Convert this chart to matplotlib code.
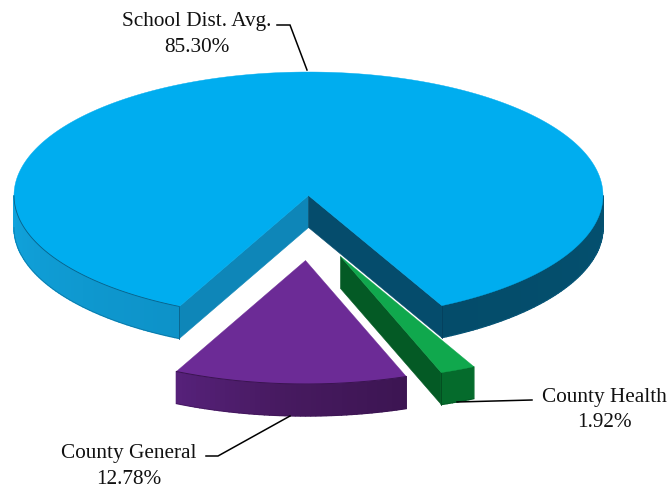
import numpy as np
import matplotlib
matplotlib.use("Agg")
import matplotlib.pyplot as plt
from matplotlib.patches import Polygon
from matplotlib.colors import to_rgb

labels = ["School Dist. Avg.", "County General", "County Health"]
values = [85.30, 12.78, 1.92]
pct_labels = ["85.30%", "12.78%", "1.92%"]

W, H = 670, 489
CX, CY, RX, RY, DEPTH = 308.5, 196.5, 294.5, 123.5, 32
START = 116.0
OFFSETS = [(0, 0), (-3, 65), (32, 61)]
TOPS = ["#00ADEF", "#6C2B96", "#10A84D"]
CUT_COLOURS = {"blue_left": "#0E86B8", "blue_right": "#054C6C", "green": "#045A25"}
BLUE_RAMP = [(116, "#0D92C8"), (180, "#11A3DC"), (360, "#04506F"), (423, "#044C6A")]
PURPLE_RAMP = [(70, "#3C1552"), (95, "#471A60"), (116, "#56217A")]
GREEN_RAMP = [(63, "#056B2C"), (70, "#056B2C")]
LINE = ["#0A5F86", "#3A1450", "#034A20"]

fig = plt.figure(figsize=(W / 100, H / 100), dpi=100)
ax = fig.add_axes([0, 0, 1, 1])
ax.set_xlim(0, W)
ax.set_ylim(H, 0)
ax.axis("off")


def pt(t, o):
    r = np.radians(t)
    return np.column_stack([CX + o[0] + RX * np.cos(r), CY + o[1] + RY * np.sin(r)])


def lerp_colour(t, ramp):
    ts = [p[0] for p in ramp]
    cs = np.array([to_rgb(p[1]) for p in ramp])
    return tuple(np.interp(t, ts, cs[:, i]) for i in range(3))


def cut_face(t, o, colour, z):
    c = np.array([CX + o[0], CY + o[1]])
    e = pt(np.array([t]), o)[0]
    ax.add_patch(Polygon([c, e, e + [0, DEPTH], c + [0, DEPTH]], closed=True,
                         fc=colour, ec=colour, lw=0.4, zorder=z))


def side(t0, t1, o, ramp, line, z):
    ts = np.linspace(t0, t1, max(int(t1 - t0), 2) + 1)
    for a, b in zip(ts[:-1], ts[1:]):
        p = pt(np.array([a, b]), o)
        col = lerp_colour((a + b) / 2, ramp)
        ax.add_patch(Polygon([p[0], p[1], p[1] + [0, DEPTH], p[0] + [0, DEPTH]],
                             closed=True, fc=col, ec=col, lw=1.0, zorder=z))
    p = pt(ts, o)
    ax.plot(p[:, 0], p[:, 1] + DEPTH, color=line, lw=0.5, alpha=0.6, zorder=z + 0.2)


def top(lo, hi, o, colour, z):
    ts = np.linspace(lo, hi, 400)
    arc = pt(ts, o)
    c = [CX + o[0], CY + o[1]]
    ax.add_patch(Polygon(np.vstack([[c], arc]), closed=True, fc=colour, ec=colour,
                         lw=0.3, zorder=z))
    return ts, arc


def vertical(t, o, line, z):
    e = pt(np.array([t]), o)[0]
    ax.plot([e[0], e[0]], [e[1], e[1] + DEPTH], color=line, lw=0.6, zorder=z)


# sweep of each slice, clockwise on screen, derived from the values
blue_lo, blue_hi = START, START + values[0] * 3.6
purple_hi, purple_lo = START, START - values[1] * 3.6
green_hi, green_lo = purple_lo, purple_lo - values[2] * 3.6

# School district slice
o = OFFSETS[0]
cut_face(blue_lo, o, CUT_COLOURS["blue_left"], 2)
cut_face(blue_hi, o, CUT_COLOURS["blue_right"], 2)
side(blue_lo, 180, o, BLUE_RAMP, LINE[0], 2.2)
side(360, blue_hi, o, BLUE_RAMP, LINE[0], 2.2)
ts, arc = top(blue_lo, blue_hi, o, TOPS[0], 3)
mask = ts <= 180
ax.plot(arc[mask, 0], arc[mask, 1], color=LINE[0], lw=0.6, zorder=3.1)
vertical(blue_lo, o, LINE[0], 3.2)
vertical(blue_hi, o, "#04405C", 3.2)

# County General slice
o = OFFSETS[1]
side(purple_lo, purple_hi, o, PURPLE_RAMP, LINE[1], 4)
ts, arc = top(purple_lo, purple_hi, o, TOPS[1], 5)
ax.plot(arc[:, 0], arc[:, 1], color=LINE[1], lw=0.7, zorder=5.1)

# County Health slice
o = OFFSETS[2]
cut_face(green_hi, o, CUT_COLOURS["green"], 6)
side(green_lo, green_hi, o, GREEN_RAMP, LINE[2], 6.2)
top(green_lo, green_hi, o, TOPS[2], 7)
vertical(green_hi, o, LINE[2], 7.2)

FONT = dict(family="Liberation Serif", fontsize=15.3, color="#111111", ha="center", va="baseline")
LABEL_POS = [(197, 26, 52), (129, 458, 484), (604, 402, 427)]
for name, pct, (x, y1, y2) in zip(labels, pct_labels, LABEL_POS):
    ax.text(x, y1, name, zorder=20, **FONT)
    ax.text(x, y2, pct, zorder=20, **FONT)

LEADERS = [([277, 290, 307], [26, 26, 71]),
           ([206, 218, 290], [457, 457, 417]),
           ([457, 532], [403, 401])]
for xs, ys in LEADERS:
    ax.plot(xs, ys, color="black", lw=1.1, zorder=15, solid_joinstyle="miter")

fig.savefig("out.png", dpi=100, facecolor="white")
